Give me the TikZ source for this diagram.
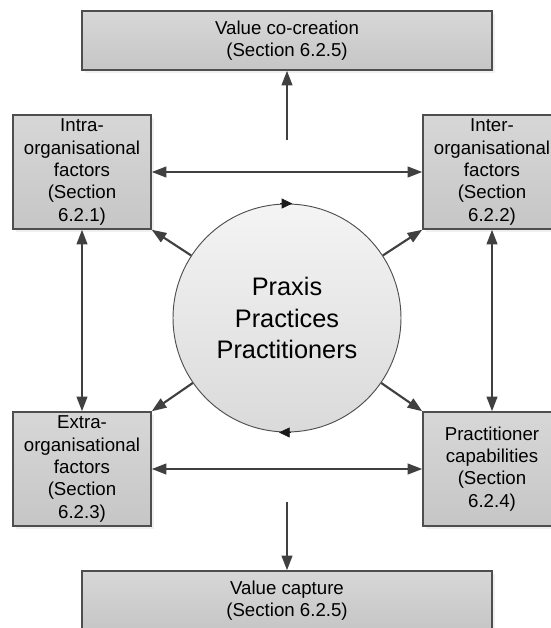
\documentclass[tikz,border=0pt]{standalone}
\usepackage{fontspec}
\setmainfont{Liberation Sans}
\usetikzlibrary{arrows.meta,shadows}
\definecolor{edgecol}{HTML}{404040}
\definecolor{markcol}{HTML}{1A1A1A}
\definecolor{boxline}{HTML}{4E4E4E}
\definecolor{boxtop}{HTML}{D7D7D7}
\definecolor{boxbot}{HTML}{C6C6C6}
\definecolor{circtop}{HTML}{F4F4F4}
\definecolor{circbot}{HTML}{DADADA}
\begin{document}
\begin{tikzpicture}[x=0.75pt,y=-0.75pt,
  box/.style={rectangle, draw=boxline, line width=1.1pt,
    top color=boxtop, bottom color=boxbot, inner sep=0pt, align=center,
    font=\fontsize{14}{16.7}\selectfont,
    drop shadow={opacity=0.12, shadow xshift=2pt, shadow yshift=-2pt}},
  sidebox/.style={box, minimum width=103.5pt, minimum height=85.5pt},
  widebox/.style={box, minimum width=307.5pt, minimum height=44.25pt},
  hub/.style={circle, draw=boxline, line width=0.7pt,
    top color=circtop, bottom color=circbot, minimum size=171pt,
    inner sep=0pt, align=center, font=\fontsize{19}{23.3}\selectfont},
  link/.style={draw=edgecol, line width=1.6pt, >={Triangle[length=11pt,width=8pt]}, ->},
  dlink/.style={draw=edgecol, line width=1.6pt, >={Triangle[length=11pt,width=8pt]}, <->},
  turn/.style={draw=markcol, line width=0.6pt, >={Triangle[length=8pt,width=7.5pt]}, ->}
]
\useasboundingbox (0,0) rectangle (550,628);

% boxes
\node[widebox] (cocreation) at (287,40.5) {Value co-creation\\(Section 6.2.5)};
\node[widebox] (capture) at (287,600.5) {Value capture\\(Section 6.2.5)};
\node[sidebox] (intra) at (82,172) {Intra-\\organisational\\factors\\(Section\\6.2.1)};
\node[sidebox] (inter) at (492,172) {Inter-\\organisational\\factors\\(Section\\6.2.2)};
\node[sidebox] (extra) at (82,469) {Extra-\\organisational\\factors\\(Section\\6.2.3)};
\node[sidebox] (capab) at (492,469) {Practitioner\\capabilities\\(Section\\6.2.4)};

% central circle
\node[hub] (hub) at (287,318) {Praxis\\Practices\\Practitioners};

% rotation marks on the circle
\draw[turn] ([xshift=-5pt]hub.north) -- ([xshift=4pt]hub.north);
\draw[turn] ([xshift=3pt]hub.south) -- ([xshift=-6pt]hub.south);

% connectors between the factor boxes
\draw[dlink] (intra.east) -- (inter.west);
\draw[dlink] (extra.east) -- (capab.west);
\draw[dlink] (intra.south) -- (extra.north);
\draw[dlink] (inter.south) -- (capab.north);

% from the circle to the factor boxes
\draw[link] (hub) -- (intra.south east);
\draw[link] (hub) -- (inter.south west);
\draw[link] (hub) -- (extra.north east);
\draw[link] (hub) -- (capab.north west);

% value arrows
\coordinate (upfrom) at (287,140);
\coordinate (downfrom) at (287,502);
\draw[link] (upfrom) -- (cocreation.south);
\draw[link] (downfrom) -- (capture.north);
\end{tikzpicture}
\end{document}
